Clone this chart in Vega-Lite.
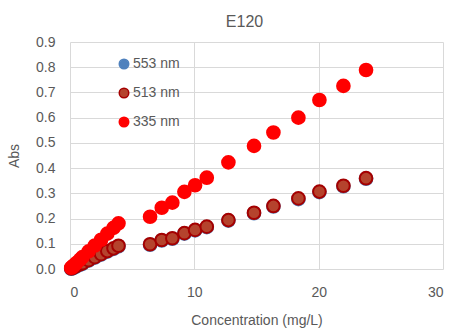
{
  "$schema": "https://vega.github.io/schema/vega-lite/v6.json",
  "width": 373,
  "height": 227,
  "autosize": "none",
  "padding": {"left": 70, "top": 42, "right": 10, "bottom": 62},
  "background": "white",
  "title": {"text": "E120", "fontSize": 16, "font": "Liberation Sans", "fontWeight": "normal", "color": "#595959", "anchor": "middle", "dx": -12, "offset": 5},
  "config": {"view": {"stroke": null}},
  "data": {"values": [
    {"c": 0.1, "abs": 0.001, "wl": "553 nm"},
    {"c": 0.2, "abs": 0.003, "wl": "553 nm"},
    {"c": 0.3, "abs": 0.005, "wl": "553 nm"},
    {"c": 0.5, "abs": 0.010, "wl": "553 nm"},
    {"c": 0.8, "abs": 0.017, "wl": "553 nm"},
    {"c": 1.0, "abs": 0.021, "wl": "553 nm"},
    {"c": 1.5, "abs": 0.033, "wl": "553 nm"},
    {"c": 2.0, "abs": 0.045, "wl": "553 nm"},
    {"c": 2.5, "abs": 0.057, "wl": "553 nm"},
    {"c": 3.0, "abs": 0.069, "wl": "553 nm"},
    {"c": 3.5, "abs": 0.080, "wl": "553 nm"},
    {"c": 3.9, "abs": 0.090, "wl": "553 nm"},
    {"c": 6.44, "abs": 0.096, "wl": "553 nm"},
    {"c": 7.38, "abs": 0.113, "wl": "553 nm"},
    {"c": 8.23, "abs": 0.120, "wl": "553 nm"},
    {"c": 9.2, "abs": 0.140, "wl": "553 nm"},
    {"c": 10.06, "abs": 0.153, "wl": "553 nm"},
    {"c": 11.0, "abs": 0.166, "wl": "553 nm"},
    {"c": 12.74, "abs": 0.192, "wl": "553 nm"},
    {"c": 14.8, "abs": 0.221, "wl": "553 nm"},
    {"c": 16.36, "abs": 0.248, "wl": "553 nm"},
    {"c": 18.37, "abs": 0.277, "wl": "553 nm"},
    {"c": 20.06, "abs": 0.305, "wl": "553 nm"},
    {"c": 21.99, "abs": 0.328, "wl": "553 nm"},
    {"c": 23.81, "abs": 0.358, "wl": "553 nm"},
    {"c": 0.1, "abs": 0.002, "wl": "513 nm"},
    {"c": 0.2, "abs": 0.005, "wl": "513 nm"},
    {"c": 0.3, "abs": 0.007, "wl": "513 nm"},
    {"c": 0.5, "abs": 0.012, "wl": "513 nm"},
    {"c": 0.8, "abs": 0.019, "wl": "513 nm"},
    {"c": 1.0, "abs": 0.023, "wl": "513 nm"},
    {"c": 1.5, "abs": 0.035, "wl": "513 nm"},
    {"c": 2.0, "abs": 0.047, "wl": "513 nm"},
    {"c": 2.5, "abs": 0.059, "wl": "513 nm"},
    {"c": 3.0, "abs": 0.071, "wl": "513 nm"},
    {"c": 3.5, "abs": 0.082, "wl": "513 nm"},
    {"c": 3.9, "abs": 0.092, "wl": "513 nm"},
    {"c": 6.44, "abs": 0.098, "wl": "513 nm"},
    {"c": 7.38, "abs": 0.115, "wl": "513 nm"},
    {"c": 8.23, "abs": 0.122, "wl": "513 nm"},
    {"c": 9.2, "abs": 0.142, "wl": "513 nm"},
    {"c": 10.06, "abs": 0.155, "wl": "513 nm"},
    {"c": 11.0, "abs": 0.168, "wl": "513 nm"},
    {"c": 12.74, "abs": 0.194, "wl": "513 nm"},
    {"c": 14.8, "abs": 0.223, "wl": "513 nm"},
    {"c": 16.36, "abs": 0.250, "wl": "513 nm"},
    {"c": 18.37, "abs": 0.280, "wl": "513 nm"},
    {"c": 20.06, "abs": 0.307, "wl": "513 nm"},
    {"c": 21.99, "abs": 0.330, "wl": "513 nm"},
    {"c": 23.81, "abs": 0.360, "wl": "513 nm"},
    {"c": 0.1, "abs": 0.005, "wl": "335 nm"},
    {"c": 0.2, "abs": 0.009, "wl": "335 nm"},
    {"c": 0.3, "abs": 0.014, "wl": "335 nm"},
    {"c": 0.5, "abs": 0.023, "wl": "335 nm"},
    {"c": 0.8, "abs": 0.037, "wl": "335 nm"},
    {"c": 1.0, "abs": 0.047, "wl": "335 nm"},
    {"c": 1.5, "abs": 0.070, "wl": "335 nm"},
    {"c": 2.0, "abs": 0.093, "wl": "335 nm"},
    {"c": 2.5, "abs": 0.116, "wl": "335 nm"},
    {"c": 3.0, "abs": 0.140, "wl": "335 nm"},
    {"c": 3.5, "abs": 0.163, "wl": "335 nm"},
    {"c": 3.9, "abs": 0.181, "wl": "335 nm"},
    {"c": 6.44, "abs": 0.207, "wl": "335 nm"},
    {"c": 7.38, "abs": 0.243, "wl": "335 nm"},
    {"c": 8.23, "abs": 0.263, "wl": "335 nm"},
    {"c": 9.2, "abs": 0.306, "wl": "335 nm"},
    {"c": 10.06, "abs": 0.332, "wl": "335 nm"},
    {"c": 11.0, "abs": 0.362, "wl": "335 nm"},
    {"c": 12.74, "abs": 0.423, "wl": "335 nm"},
    {"c": 14.8, "abs": 0.488, "wl": "335 nm"},
    {"c": 16.36, "abs": 0.541, "wl": "335 nm"},
    {"c": 18.37, "abs": 0.600, "wl": "335 nm"},
    {"c": 20.06, "abs": 0.670, "wl": "335 nm"},
    {"c": 21.99, "abs": 0.726, "wl": "335 nm"},
    {"c": 23.81, "abs": 0.789, "wl": "335 nm"}
  ]},
  "mark": {"type": "point", "filled": true, "shape": "circle", "size": 160, "strokeWidth": 2, "opacity": 1, "fillOpacity": 1, "strokeOpacity": 1},
  "encoding": {
    "x": {"field": "c", "type": "quantitative",
      "scale": {"domain": [0, 30], "nice": false, "zero": true},
      "axis": {"title": "Concentration (mg/L)", "values": [0, 10, 20, 30], "grid": true, "gridColor": "#D9D9D9", "gridWidth": 1, "domain": false, "ticks": false,
        "labelFont": "Liberation Sans", "labelFontSize": 14, "labelColor": "#595959", "labelPadding": 16,
        "titleFont": "Liberation Sans", "titleFontSize": 14, "titleFontWeight": "normal", "titleColor": "#595959", "titlePadding": 14}},
    "y": {"field": "abs", "type": "quantitative",
      "scale": {"domain": [0, 0.9], "nice": false},
      "axis": {"title": "Abs", "values": [0, 0.1, 0.2, 0.3, 0.4, 0.5, 0.6, 0.7, 0.8, 0.9], "format": ".1f", "grid": true, "gridColor": "#D9D9D9", "gridWidth": 1, "domain": false, "ticks": false,
        "labelFont": "Liberation Sans", "labelFontSize": 14, "labelColor": "#595959", "labelPadding": 15,
        "titleFont": "Liberation Sans", "titleFontSize": 14, "titleFontWeight": "normal", "titleColor": "#595959", "titlePadding": 14}},
    "fill": {"field": "wl", "type": "nominal",
      "scale": {"domain": ["553 nm", "513 nm", "335 nm"], "range": ["#4F81BD", "#B5432D", "#FF0000"]},
      "legend": {"title": null, "orient": "none", "legendX": 47, "legendY": 15, "symbolSize": 90, "symbolStrokeWidth": 1.5, "labelFont": "Liberation Sans", "labelFontSize": 14, "labelColor": "#595959", "rowPadding": 13, "labelOffset": 2, "symbolType": "circle"}},
    "stroke": {"field": "wl", "type": "nominal",
      "scale": {"domain": ["553 nm", "513 nm", "335 nm"], "range": ["#4F81BD", "#A50000", "#FF0000"]},
      "legend": {"title": null, "orient": "none", "legendX": 47, "legendY": 15, "symbolSize": 90, "symbolStrokeWidth": 1.5, "labelFont": "Liberation Sans", "labelFontSize": 14, "labelColor": "#595959", "rowPadding": 13, "labelOffset": 2, "symbolType": "circle"}}
  }
}
